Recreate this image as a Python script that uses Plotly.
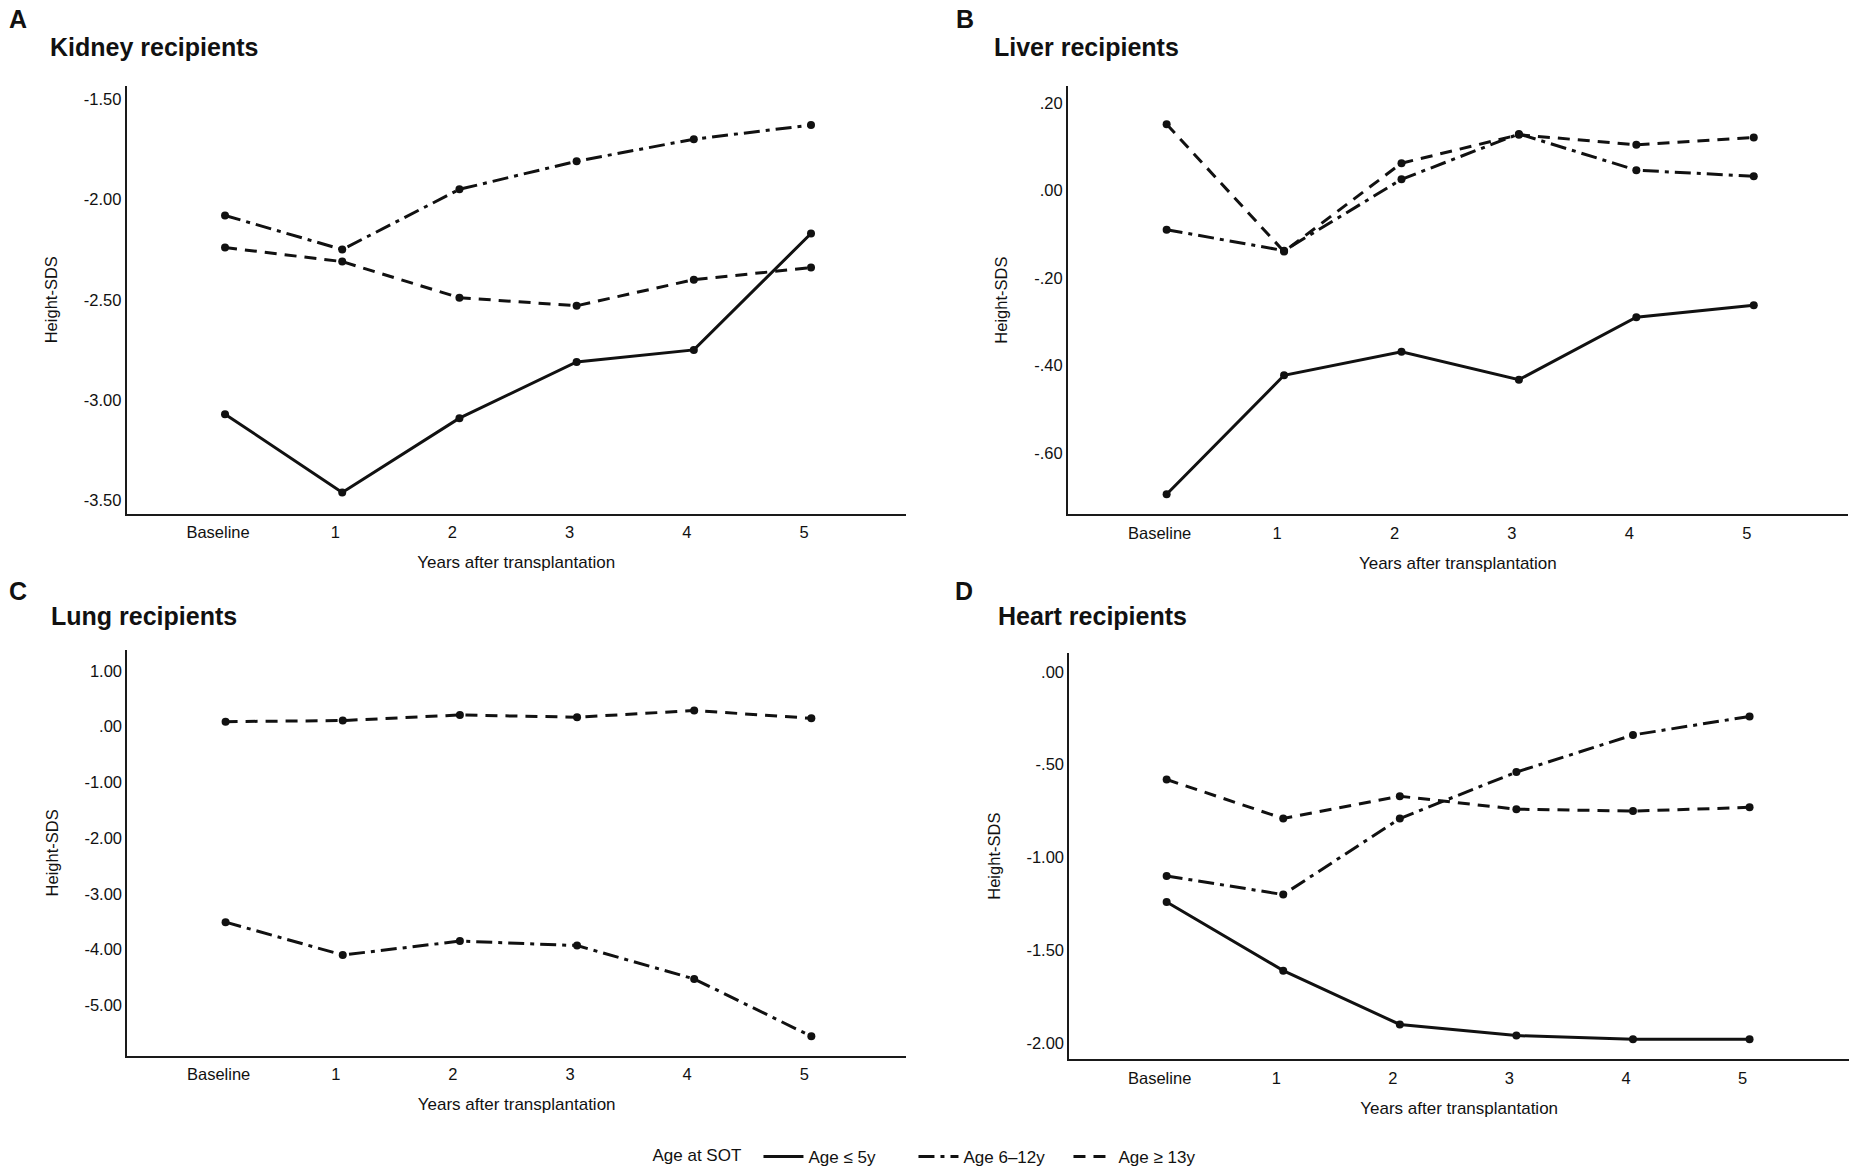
import plotly.graph_objects as go

# ---------------- data ----------------
years = ["Baseline", "1", "2", "3", "4", "5"]
x_idx = list(range(len(years)))

series_names = ["Age ≤ 5y", "Age 6–12y", "Age ≥ 13y"]

kidney_le5 = [-3.07, -3.46, -3.09, -2.81, -2.75, -2.17]
kidney_6_12 = [-2.08, -2.25, -1.95, -1.81, -1.70, -1.63]
kidney_ge13 = [-2.24, -2.31, -2.49, -2.53, -2.40, -2.34]

liver_le5 = [-0.695, -0.423, -0.369, -0.433, -0.290, -0.263]
liver_6_12 = [-0.090, -0.138, 0.025, 0.129, 0.046, 0.032]
liver_ge13 = [0.151, -0.140, 0.062, 0.127, 0.104, 0.121]

lung_le5 = None
lung_6_12 = [-3.51, -4.10, -3.85, -3.93, -4.53, -5.56]
lung_ge13 = [0.09, 0.11, 0.21, 0.17, 0.29, 0.15]

heart_le5 = [-1.24, -1.61, -1.90, -1.96, -1.98, -1.98]
heart_6_12 = [-1.10, -1.20, -0.79, -0.54, -0.34, -0.24]
heart_ge13 = [-0.58, -0.79, -0.67, -0.74, -0.75, -0.73]

kidney_tickvals = [-1.5, -2.0, -2.5, -3.0, -3.5]
kidney_ticktext = ["-1.50", "-2.00", "-2.50", "-3.00", "-3.50"]
liver_tickvals = [0.2, 0.0, -0.2, -0.4, -0.6]
liver_ticktext = [".20", ".00", "-.20", "-.40", "-.60"]
lung_tickvals = [1, 0, -1, -2, -3, -4, -5]
lung_ticktext = ["1.00", ".00", "-1.00", "-2.00", "-3.00", "-4.00", "-5.00"]
heart_tickvals = [0.0, -0.5, -1.0, -1.5, -2.0]
heart_ticktext = [".00", "-.50", "-1.00", "-1.50", "-2.00"]

panel_letters = ["A", "B", "C", "D"]
panel_titles = ["Kidney recipients", "Liver recipients", "Lung recipients", "Heart recipients"]

# ---------------- styles ----------------
W, H = 1857, 1175
FONT = "Arial, Liberation Sans, Helvetica, sans-serif"
INK = "#111111"
AXIS_INK = "#1a1a1a"
dash_styles = ["solid", "16px,6px,4px,6px", "12px,8px"]

panels = [
    dict(data=[kidney_le5, kidney_6_12, kidney_ge13], tv=kidney_tickvals, tt=kidney_ticktext,
         xpx=(126.7, 905.7), ypx=(86, 515), yr=[-3.566, -1.434], xr=[-0.839, 5.808]),
    dict(data=[liver_le5, liver_6_12, liver_ge13], tv=liver_tickvals, tt=liver_ticktext,
         xpx=(1068, 1847.7), ypx=(86, 515.7), yr=[-0.741, 0.239], xr=[-0.84, 5.80]),
    dict(data=[lung_le5, lung_6_12, lung_ge13], tv=lung_tickvals, tt=lung_ticktext,
         xpx=(127.3, 906), ypx=(651.7, 1058.3), yr=[-5.906, 1.376], xr=[-0.839, 5.808]),
    dict(data=[heart_le5, heart_6_12, heart_ge13], tv=heart_tickvals, tt=heart_ticktext,
         xpx=(1069.3, 1849), ypx=(655, 1061.7), yr=[-2.086, 0.10], xr=[-0.835, 5.853]),
]

fig = go.Figure()

for p_i, p in enumerate(panels):
    n = p_i + 1
    xa = "x" if n == 1 else f"x{n}"
    ya = "y" if n == 1 else f"y{n}"
    for s_i, vals in enumerate(p["data"]):
        if vals is None:
            continue
        fig.add_trace(go.Scatter(
            x=x_idx, y=vals, xaxis=xa, yaxis=ya,
            mode="lines+markers",
            name=series_names[s_i],
            legendgroup=series_names[s_i],
            showlegend=False,
            line=dict(color=INK, width=3, dash=dash_styles[s_i]),
            marker=dict(color=INK, size=8),
            hoverinfo="skip",
        ))
    axis_common = dict(showgrid=False, zeroline=False, showline=True, linecolor=AXIS_INK,
                       linewidth=2, ticks="", tickfont=dict(family=FONT, size=16.5, color=INK))
    x0, x1 = p["xpx"]
    y0, y1 = p["ypx"]
    fig.layout[f"xaxis{'' if n == 1 else n}"] = dict(
        axis_common, domain=[x0 / W, x1 / W], anchor=ya, range=p["xr"],
        tickvals=x_idx, ticktext=years, ticklabelshift=-7, ticklabelstandoff=3,
        title=dict(text="Years after transplantation", font=dict(family=FONT, size=17, color=INK),
                   standoff=16),
    )
    fig.layout[f"yaxis{'' if n == 1 else n}"] = dict(
        axis_common, domain=[1 - y1 / H, 1 - y0 / H], anchor=xa, range=p["yr"],
        tickvals=p["tv"], ticktext=p["tt"],
        title=dict(text="Height-SDS", font=dict(family=FONT, size=16.5, color=INK),
                   standoff=22),
    )

# legend-only entries (line samples without markers, as in the reference)
for s_i, name in enumerate(series_names):
    fig.add_trace(go.Scatter(
        x=[None], y=[None], mode="lines", name=name, legendgroup=name,
        showlegend=True, line=dict(color=INK, width=3, dash=dash_styles[s_i]),
        hoverinfo="skip",
    ))

# panel letters and titles
letter_pos = [(7, 19), (954, 19), (7, 593), (953, 593)]
title_pos = [(48, 47), (992, 47), (49, 618), (996, 618)]
for i in range(4):
    lx, ly = letter_pos[i]
    tx, ty = title_pos[i]
    fig.add_annotation(text=f"<b>{panel_letters[i]}</b>", xref="paper", yref="paper",
                       x=lx / W, y=1 - ly / H, xanchor="left", yanchor="middle",
                       showarrow=False, font=dict(family=FONT, size=25, color=INK))
    fig.add_annotation(text=f"<b>{panel_titles[i]}</b>", xref="paper", yref="paper",
                       x=tx / W, y=1 - ty / H, xanchor="left", yanchor="middle",
                       showarrow=False, font=dict(family=FONT, size=25, color=INK))

fig.update_layout(
    width=W, height=H,
    margin=dict(l=0, r=0, t=0, b=0),
    paper_bgcolor="white", plot_bgcolor="white",
    font=dict(family=FONT, color=INK),
    showlegend=True,
    legend=dict(
        orientation="h", x=937 / W, xanchor="center", y=1 - 1160 / H, yanchor="middle",
        title=dict(text="Age at SOT  ", side="left", font=dict(family=FONT, size=17, color=INK)),
        font=dict(family=FONT, size=17, color=INK),
        bgcolor="rgba(0,0,0,0)", itemwidth=40,
        entrywidth=100, entrywidthmode="pixels",
    ),
)

fig.write_html("out.html", config={"displayModeBar": False},
               post_script="document.body.style.margin='0';")
